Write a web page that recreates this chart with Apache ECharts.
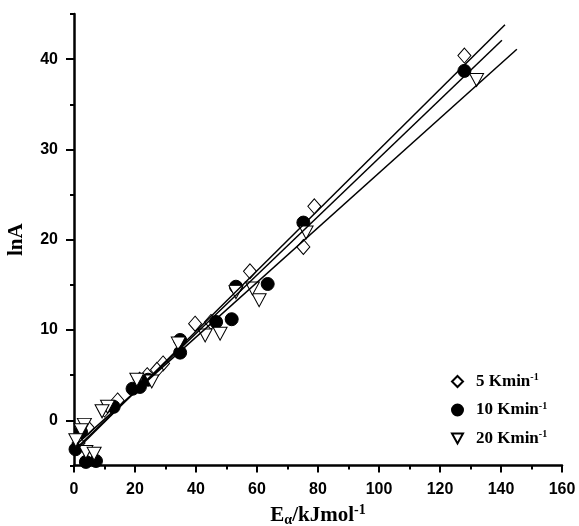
<!DOCTYPE html>
<html><head><meta charset="utf-8">
<script src="https://cdn.jsdelivr.net/npm/echarts@6/dist/echarts.min.js"></script>
<style>html,body{margin:0;padding:0;background:#fff}#c{width:579px;height:526px}</style>
</head><body><div id="c"></div>
<script>
const seriesNames = ['5 Kmin', '10 Kmin', '20 Kmin'];
const xTickValues = [0, 20, 40, 60, 80, 100, 120, 140, 160];
const yMajorTicks = [0, 10, 20, 30, 40];
const yMinorTicks = [-5, 5, 15, 25, 35, 45];

const pts5 = [[128, 40.4], [78.8, 23.7], [75.2, 19.2], [57.7, 16.5], [44.9, 10.9], [39.7, 10.7],
  [29.2, 6.3], [27.2, 5.6], [24, 5.0], [21.5, 4.5], [14.3, 2.2], [10, 1.2], [4.5, -0.8], [1.5, -2.5], [5.5, -4.2]];
const pts10 = [[128, 38.7], [75.2, 21.9], [63.5, 15.1], [53.1, 14.8], [51.7, 11.2], [46.6, 10.9],
  [34.8, 8.9], [34.8, 7.5], [24.3, 4.5], [21.6, 3.7], [19.2, 3.5], [13, 1.5], [2.3, -1.3], [0.5, -3.2], [3.9, -4.6], [7.2, -4.5]];
const pts20 = [[132, 37.7], [76.1, 20.8], [60.7, 13.3], [58.5, 14.6], [53.1, 14.2], [47.9, 9.6], [43, 9.4],
  [34.2, 8.5], [25.5, 4.3], [20.6, 4.5], [11, 1.5], [9.2, 1.0], [3.4, -0.5], [2.3, -1.1], [0.6, -2.2], [3.9, -3.5], [6.6, -3.7]];

const fit5 = [[1, -3.2], [141.3, 43.8]];
const fit10 = [[1, -3.0], [140.3, 42.1]];
const fit20 = [[1, -2.6], [145.2, 41.1]];

const triPath = 'path://M0,0 L10,0 L5,9 Z';
const serif = 'Liberation Serif';
const sans = 'Liberation Sans';

const chart = echarts.init(document.getElementById('c'));
const scatterBase = {
  type: 'scatter',
  emphasis: { disabled: true },
  z: 2
};
const lineBase = {
  type: 'line', showSymbol: false, symbol: 'none', silent: true,
  lineStyle: { color: '#000', width: 1.5 }, z: 4
};
chart.setOption({
  animation: false,
  grid: { left: 74, right: 17, top: 14, bottom: 60.5, containLabel: false, outerBoundsMode: 'none' },
  xAxis: {
    type: 'value', min: 0, max: 160, interval: 20,
    name: '{e|E}{sub|α}{e|/kJmol}{sup|-1}', nameLocation: 'middle', nameGap: 38,
    nameTextStyle: {
      rich: {
        e: { fontFamily: serif, fontWeight: 'bold', fontSize: 21, color: '#000', lineHeight: 24 },
        sub: { fontFamily: serif, fontWeight: 'bold', fontSize: 14, color: '#000', verticalAlign: 'bottom', lineHeight: 16, padding: [10, 0, 0, 0] },
        sup: { fontFamily: serif, fontWeight: 'bold', fontSize: 14, color: '#000', verticalAlign: 'top', lineHeight: 16, padding: [0, 0, 8, 0] }
      }
    },
    axisLine: { onZero: false, lineStyle: { color: '#000', width: 2.5 } },
    axisTick: { show: true, inside: false, length: 7, lineStyle: { color: '#000', width: 2 } },
    minorTick: { show: true, splitNumber: 2, length: 4, lineStyle: { color: '#000', width: 2 } },
    axisLabel: { margin: 16, fontFamily: sans, fontWeight: 'bold', fontSize: 16, color: '#000',
      customValues: xTickValues },
    splitLine: { show: false }
  },
  yAxis: [{
    type: 'value', min: -5, max: 45, position: 'left',
    name: 'lnA', nameLocation: 'middle', nameGap: 47, nameRotate: 90,
    nameTextStyle: { fontFamily: serif, fontWeight: 'bold', fontSize: 21, color: '#000' },
    axisLine: { onZero: false, lineStyle: { color: '#000', width: 2.5 } },
    axisTick: { show: true, inside: false, length: 8, customValues: yMajorTicks, lineStyle: { color: '#000', width: 2 } },
    axisLabel: { margin: 16, fontFamily: sans, fontWeight: 'bold', fontSize: 16, color: '#000',
      customValues: yMajorTicks },
    splitLine: { show: false }
  }, {
    type: 'value', min: -5, max: 45, position: 'left', offset: 0,
    axisLine: { show: false, onZero: false },
    axisTick: { show: true, inside: false, length: 4, customValues: yMinorTicks, lineStyle: { color: '#000', width: 2 } },
    axisLabel: { show: false },
    splitLine: { show: false }
  }],
  legend: {
    orient: 'vertical', left: 446, top: 367.5, itemGap: 11,
    itemWidth: 11, itemHeight: 11,
    data: [
      { name: seriesNames[0], icon: 'diamond' },
      { name: seriesNames[1], icon: 'circle' },
      { name: seriesNames[2], icon: triPath }
    ],
    formatter: n => '{a|' + n + '}{s|-1}',
    textStyle: {
      padding: [0, 0, 0, 8],
      rich: {
        a: { fontFamily: serif, fontWeight: 'bold', fontSize: 17, color: '#000', lineHeight: 18 },
        s: { fontFamily: serif, fontWeight: 'bold', fontSize: 10, color: '#000', verticalAlign: 'top', lineHeight: 10 }
      }
    },
    selectedMode: false
  },
  series: [
    Object.assign({}, scatterBase, { name: seriesNames[0], symbol: 'diamond', symbolSize: [13, 15], data: pts5,
      itemStyle: { color: '#fff', borderColor: '#000', borderWidth: 1, opacity: 1 } }),
    Object.assign({}, scatterBase, { name: seriesNames[1], symbol: 'circle', symbolSize: 13, data: pts10,
      itemStyle: { color: '#000', borderColor: '#000', borderWidth: 1, opacity: 1 } }),
    Object.assign({}, scatterBase, { name: seriesNames[2], symbol: triPath, symbolSize: [14, 13], data: pts20, z: 3,
      itemStyle: { color: '#fff', borderColor: '#000', borderWidth: 1, opacity: 1 } }),
    Object.assign({}, lineBase, { data: fit5 }),
    Object.assign({}, lineBase, { data: fit10 }),
    Object.assign({}, lineBase, { data: fit20 })
  ]
});
</script></body></html>
